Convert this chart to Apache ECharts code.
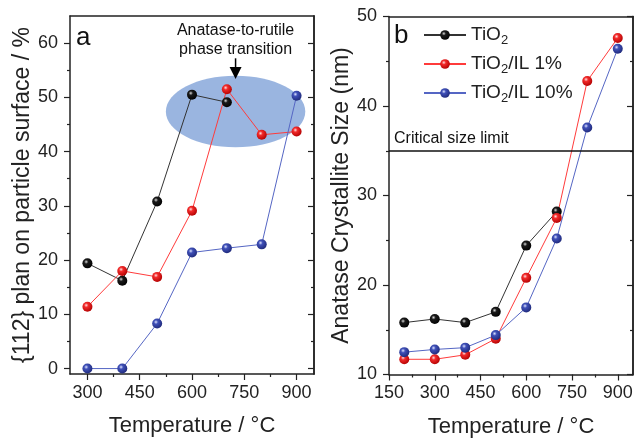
<!DOCTYPE html>
<html>
<head>
<meta charset="utf-8">
<script src="https://cdn.jsdelivr.net/npm/echarts@6/dist/echarts.min.js"></script>
<style>
html,body{margin:0;padding:0;background:#fff;}
#chart{width:635px;height:439px;}
</style>
</head>
<body>
<div id="chart"></div>
<script>
// ---------- data ----------
const seriesNames = ['TiO2', 'TiO2/IL 1%', 'TiO2/IL 10%'];
// panel a : {112} facet fraction
const tempA = [300, 400, 500, 600, 700, 800, 900];
const facetTiO2 = [19.4, 16.2, 30.8, 50.5, 49.1];
const facetIL1 = [11.4, 18.0, 16.9, 29.1, 51.5, 43.1, 43.7];
const facetIL10 = [0, 0, 8.3, 21.4, 22.2, 22.9, 50.3];
// panel b : anatase crystallite size
const tempB = [200, 300, 400, 500, 600, 700, 800, 900];
const sizeTiO2 = [15.8, 16.2, 15.8, 17.0, 24.4, 28.2];
const sizeIL1 = [11.7, 11.7, 12.2, 14.0, 20.8, 27.5, 42.8, 47.6];
const sizeIL10 = [12.5, 12.8, 13.0, 14.4, 17.5, 25.2, 37.6, 46.4];
const criticalSize = [35];
// tick labels
const xTicksA = [300, 450, 600, 750, 900];
const xMinorA = [375, 525, 675, 825];
const yTicksA = [0, 10, 20, 30, 40, 50, 60];
const yMinorA = [5, 15, 25, 35, 45, 55];
const xTicksB = [150, 300, 450, 600, 750, 900];
const xMinorB = [225, 375, 525, 675, 825];
const yTicksB = [10, 20, 30, 40, 50];
const yMinorB = [15, 25, 35, 45];
// annotation (phase transition region) in data units
const regionCenter = [[725, 47.4]];
const regionRadius = [200, 6.6];

// ---------- styling ----------
const FONT = '"Liberation Sans", Arial, Helvetica, sans-serif';
const AX = '#222';
function sphere(light, base, dark) {
  return {type: 'radial', x: 0.38, y: 0.35, r: 0.7,
    colorStops: [{offset: 0, color: light}, {offset: 0.3, color: base}, {offset: 1, color: dark}]};
}
const markerFill = [
  sphere('#d8d8d8', '#1a1a1a', '#000000'),
  sphere('#ffe0e0', '#f22a2a', '#b00000'),
  sphere('#dfe4ff', '#3f50b8', '#1e2878')
];
const lineColor = ['#333333', '#ff3b3b', '#5566c4'];

function zip(xs, ys) { return ys.map((y, i) => [xs[i], y]); }

function xMain(grid, min, max, ticks, labels) {
  return {gridIndex: grid, type: 'value', min, max, position: 'bottom',
    axisLine: {show: true, onZero: false, lineStyle: {color: AX, width: 1.5}},
    axisTick: {show: true, customValues: ticks, length: 6, lineStyle: {color: AX, width: 1.2}},
    axisLabel: {show: true, customValues: labels, fontSize: 18, color: AX, margin: 10, fontFamily: FONT},
    splitLine: {show: false},
    name: 'Temperature / °C', nameLocation: 'middle', nameGap: 41,
    nameTextStyle: {fontSize: 22, color: AX, fontFamily: FONT}};
}
function xMinor(grid, min, max, ticks) {
  return {gridIndex: grid, type: 'value', min, max, position: 'bottom',
    axisLine: {show: false, onZero: false},
    axisTick: {show: true, customValues: ticks, length: 3, lineStyle: {color: AX, width: 1.2}},
    axisLabel: {show: false}, splitLine: {show: false}};
}
function xTop(grid, min, max) {
  return {gridIndex: grid, type: 'value', min, max, position: 'top',
    axisLine: {show: true, onZero: false, lineStyle: {color: AX, width: 1.5}},
    axisTick: {show: false}, axisLabel: {show: false}, splitLine: {show: false}};
}
function yAxisDef(grid, min, max, pos, ticks, len, inside, labels, name, nameGap) {
  const a = {gridIndex: grid, type: 'value', min, max, position: pos,
    axisLine: {show: !!labels || pos === 'right', onZero: false, lineStyle: {color: AX, width: 1.5}},
    axisTick: {show: true, inside, customValues: ticks, length: len, lineStyle: {color: AX, width: 1.2}},
    axisLabel: labels ? {show: true, customValues: labels, fontSize: 18, color: AX, margin: 12, fontFamily: FONT} : {show: false},
    splitLine: {show: false}};
  if (name) {
    a.name = name; a.nameLocation = 'middle'; a.nameGap = nameGap; a.nameRotate = 90;
    a.nameTextStyle = {fontSize: 23, color: AX, fontFamily: FONT};
  }
  return a;
}

function lineSeries(i, xIdx, yIdx, data) {
  return {type: 'line', name: seriesNames[i], xAxisIndex: xIdx, yAxisIndex: yIdx, data,
    symbol: 'circle', symbolSize: 10, showSymbol: true, z: 3,
    lineStyle: {color: lineColor[i], width: 1},
    itemStyle: {color: markerFill[i], borderWidth: 0},
    emphasis: {disabled: true}, animation: false};
}

const chart = echarts.init(document.getElementById('chart'), null, {renderer: 'canvas'});
const option = {
  backgroundColor: '#ffffff',
  textStyle: {fontFamily: FONT},
  animation: false,
  grid: [
    {left: 70, top: 16, width: 244, height: 358, containLabel: false, outerBoundsMode: 'none'},
    {left: 389, top: 16.5, width: 244, height: 358, containLabel: false, outerBoundsMode: 'none'}
  ],
  legend: {
    show: true, orient: 'vertical', left: 423, top: 23, padding: 0,
    itemWidth: 42, itemHeight: 12, itemGap: 5, selectedMode: false,
    data: seriesNames,
    formatter: n => n.replace('TiO2', 'TiO{sub|2}'),
    textStyle: {fontSize: 19, color: AX, lineHeight: 24, fontFamily: FONT,
      rich: {sub: {fontSize: 13, lineHeight: 12, verticalAlign: 'bottom', color: AX, fontFamily: FONT}}}
  },
  xAxis: [
    xMain(0, 250, 950, xTicksA, xTicksA), xMinor(0, 250, 950, xMinorA), xTop(0, 250, 950),
    xMain(1, 150, 950, xTicksB, xTicksB), xMinor(1, 150, 950, xMinorB), xTop(1, 150, 950)
  ],
  yAxis: [
    yAxisDef(0, -1, 65, 'left', yTicksA, 6, false, yTicksA, '{112} plan on particle surface / %', 36),
    yAxisDef(0, -1, 65, 'left', yMinorA, 3, false, null),
    yAxisDef(0, -1, 65, 'right', yTicksA, 6, true, null),
    yAxisDef(0, -1, 65, 'right', yMinorA, 3, true, null),
    yAxisDef(1, 10, 50, 'left', yTicksB, 6, false, yTicksB, 'Anatase Crystallite Size (nm)', 32),
    yAxisDef(1, 10, 50, 'left', yMinorB, 3, false, null),
    yAxisDef(1, 10, 50, 'right', yTicksB, 6, true, null),
    yAxisDef(1, 10, 50, 'right', yMinorB, 3, true, null)
  ],
  graphic: [
    {type: 'text', left: 76, top: 25, style: {text: 'a', fontSize: 26, fill: '#111', fontFamily: FONT}},
    {type: 'text', left: 394, top: 23, style: {text: 'b', fontSize: 26, fill: '#111', fontFamily: FONT}}
  ],
  series: [
    {type: 'custom', name: 'region', xAxisIndex: 0, yAxisIndex: 0, z: 1, silent: true,
      data: regionCenter,
      renderItem: (params, api) => {
        const c = api.coord([api.value(0), api.value(1)]);
        const s = api.size(regionRadius);
        return {type: 'ellipse', shape: {cx: c[0], cy: c[1], rx: s[0], ry: s[1]},
          style: {fill: '#9ab5e0'}};
      }},
    {type: 'custom', name: 'annotation', xAxisIndex: 0, yAxisIndex: 0, z: 4, silent: true,
      data: [[725, 57.2, 53.4]],
      renderItem: (params, api) => {
        const top = api.coord([api.value(0), api.value(1)]);
        const tip = api.coord([api.value(0), api.value(2)]);
        const headH = 12, headW = 6;
        return {type: 'group', children: [
          {type: 'line', shape: {x1: top[0], y1: top[1], x2: tip[0], y2: tip[1] - headH + 1},
            style: {stroke: '#000', lineWidth: 1.5}},
          {type: 'polygon', shape: {points: [[tip[0] - headW, tip[1] - headH], [tip[0] + headW, tip[1] - headH], [tip[0], tip[1]]]},
            style: {fill: '#000'}},
          {type: 'text', x: top[0], y: top[1] - 18,
            style: {text: 'Anatase-to-rutile\nphase transition', align: 'center', verticalAlign: 'middle',
              fontSize: 16, lineHeight: 19.5, fill: '#111', fontFamily: FONT}}
        ]};
      }},
    lineSeries(0, 0, 0, zip(tempA, facetTiO2)),
    lineSeries(1, 0, 0, zip(tempA, facetIL1)),
    lineSeries(2, 0, 0, zip(tempA, facetIL10)),
    Object.assign(lineSeries(0, 3, 4, zip(tempB, sizeTiO2)), {
      markLine: {silent: true, symbol: ['none', 'none'], animation: false,
        data: criticalSize.map(v => ({yAxis: v})),
        lineStyle: {color: '#111', width: 1.5, type: 'solid'},
        emphasis: {disabled: true},
        label: {show: true, position: 'insideStartTop', formatter: 'Critical size limit',
          fontSize: 16, color: '#111', fontFamily: FONT, distance: [5, 4]}}
    }),
    lineSeries(1, 3, 4, zip(tempB, sizeIL1)),
    lineSeries(2, 3, 4, zip(tempB, sizeIL10))
  ]
};
chart.setOption(option);
</script>
</body>
</html>
